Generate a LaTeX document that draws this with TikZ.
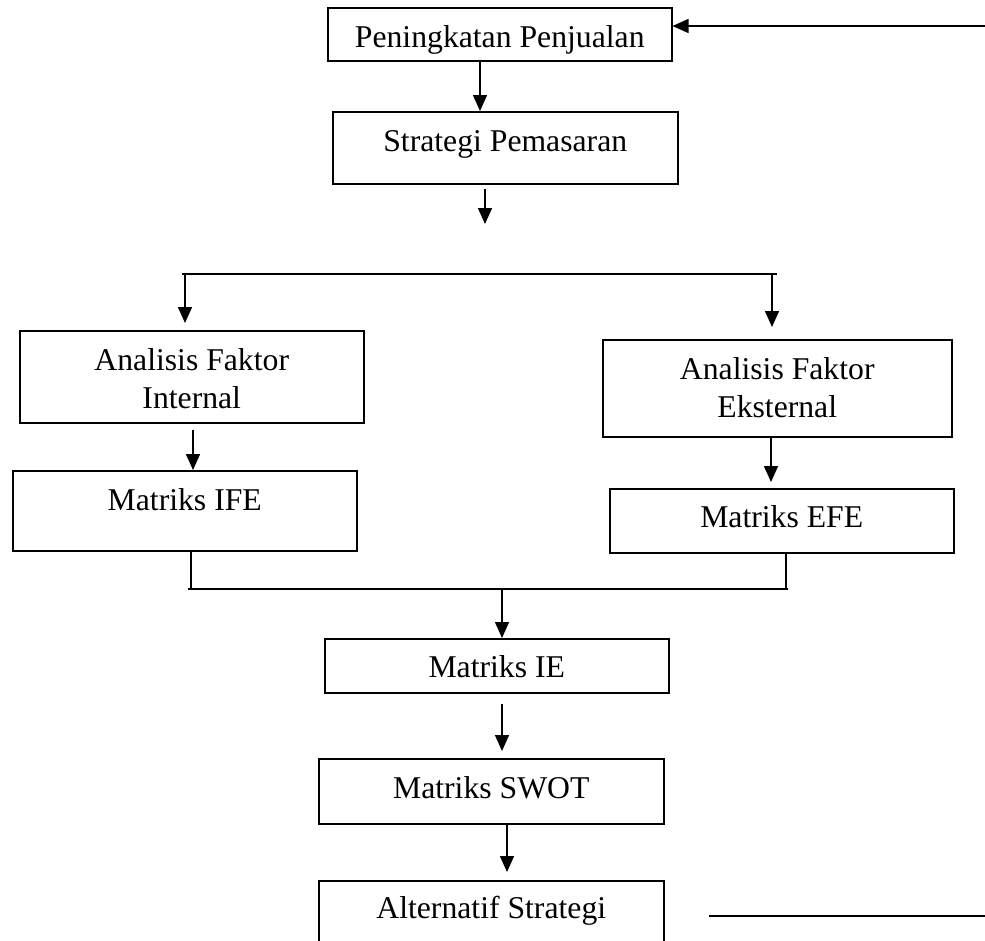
\documentclass[tikz,border=0pt]{standalone}
\usepackage{fontspec}
\setmainfont{Liberation Serif}
\usetikzlibrary{arrows.meta}

\begin{document}
\begin{tikzpicture}[x=1pt,y=1pt]
        \tikzstyle{every node}+=[inner sep=0pt]
        \tikzstyle{box}=[draw=black, line width=1.5pt, minimum width=344pt, anchor=north west, font=\fontsize{31.7}{37.5}\selectfont]
        \tikzstyle{arr}=[black, line width=1.5pt, -{Triangle[length=16pt,width=14pt]}]
        \useasboundingbox (0,0) rectangle (985,-940);
        % boxes
        \node [box, text height=40pt, text depth=13pt] (P) at (327,-7) {Peningkatan Penjualan};
        \node [box, minimum width=345pt, text height=40pt, text depth=32pt] (S) at (332,-111) {Strategi Pemasaran};
        \node [box, text height=40pt, text depth=52pt] (AFI) at (19,-330) {\begin{tabular}[t]{@{}c@{}}Analisis Faktor\\Internal\end{tabular}};
        \node [box, minimum width=349pt, text height=40pt, text depth=57pt] (AFE) at (602,-339) {\begin{tabular}[t]{@{}c@{}}Analisis Faktor\\Eksternal\end{tabular}};
        \node [box, text height=40pt, text depth=40pt] (IFE) at (12,-470) {Matriks IFE};
        \node [box, text height=39pt, text depth=25pt] (EFE) at (609,-488) {Matriks EFE};
        \node [box, text height=39pt, text depth=15pt] (IE) at (324,-638) {Matriks IE};
        \node [box, minimum width=345pt, text height=40pt, text depth=25pt] (SWOT) at (318,-758) {Matriks SWOT};
        \node [box, minimum width=345pt, text height=38pt, text depth=42pt] (ALT) at (318,-880) {Alternatif Strategi};
        % free ends
        \coordinate (fbIn) at (985,-26);
        \coordinate (fbOut) at (985,-916);
        \coordinate (outL) at (709,-916);
        \coordinate (sArr) at (485,-224);
        \coordinate (barL) at (182,-274);
        \coordinate (barR) at (777,-274);
        \coordinate (joinL) at (191,-589);
        \coordinate (joinR) at (786,-589);
        % connectors
        \draw [arr] (fbIn) -- (fbIn -| P.east);
        \draw [arr] (P.south -| 480,0) -- (S.north -| 480,0);
        \draw [arr, shorten <=4pt] (S.south -| sArr) -- (sArr);
        \draw [black, line width=1.5pt] (barL) -- (barR);
        \draw [arr, shorten >=7pt] (barL -| 185,0) -- (AFI.north -| 185,0);
        \draw [arr, shorten >=12pt] (barR -| 772,0) -- (AFE.north -| 772,0);
        \draw [arr, shorten <=6pt] (AFI.south -| 193,0) -- (IFE.north -| 193,0);
        \draw [arr, shorten >=6pt] (AFE.south -| 771,0) -- (EFE.north -| 771,0);
        \draw [black, line width=1.5pt] (IFE.south -| joinL) -- (joinL) -- ++(-3,0) -- ([xshift=2pt]joinR) -- (joinR) -- (EFE.south -| joinR);
        \draw [arr] (joinL -| 502,0) -- (IE.north -| 502,0);
        \draw [arr, shorten <=10pt, shorten >=7pt] (IE.south -| 502,0) -- (SWOT.north -| 502,0);
        \draw [arr, shorten >=8pt] (SWOT.south -| 507,0) -- (ALT.north -| 507,0);
        \draw [black, line width=1.5pt] (outL) -- (fbOut);
\end{tikzpicture}
\end{document}
